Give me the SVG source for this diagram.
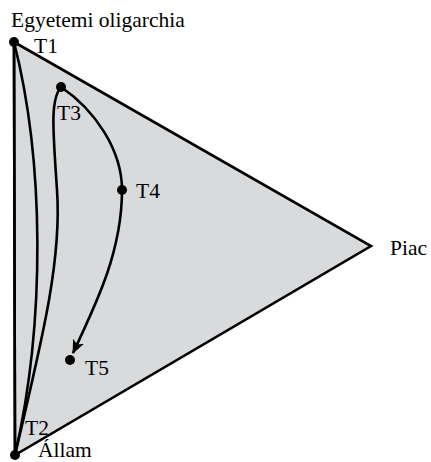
<svg xmlns="http://www.w3.org/2000/svg" width="431" height="462" viewBox="0 0 431 462">
<style>
.lbl{font-family:"Liberation Serif","Times New Roman",serif;font-size:21.5px;fill:#000}
.ln{fill:none;stroke:#000;stroke-width:2.6}
.dot{fill:#000}
</style>
<defs>
<marker id="arr" viewBox="0 0 14 12" refX="13" refY="6" markerWidth="14" markerHeight="12" markerUnits="userSpaceOnUse" orient="auto">
<path d="M0,0 L14,6 L0,12 L3.5,6 Z" fill="#000"/>
</marker>
</defs>
<g id="triangle">
<polygon points="14,42 371,246 15,455" fill="#d9dadc" stroke="#000" stroke-width="2.6" stroke-linejoin="miter"/>
</g>
<g id="connectors">
<path class="ln" d="M14,42 L15,455"/>
<path class="ln" d="M14,42 C44,160 46,320 15,455"/>
<path class="ln" d="M15,455 C42,340 62,260 57,190 C53,130 50,100 61,87"/>
<path class="ln" d="M61,87 C95,110 122,150 122,190 C122,250 98,300 73,353" marker-end="url(#arr)"/>
</g>
<g id="T1"><circle class="dot" cx="14" cy="42" r="5"/><text class="lbl" x="34" y="53">T1</text></g>
<g id="egyetemi"><text class="lbl" x="11" y="27">Egyetemi oligarchia</text></g>
<g id="T2"><circle class="dot" cx="15" cy="455" r="5"/><text class="lbl" x="25" y="435">T2</text></g>
<g id="allam"><text class="lbl" x="38" y="457">Állam</text></g>
<g id="piac"><text class="lbl" x="390" y="255">Piac</text></g>
<g id="T3"><circle class="dot" cx="61" cy="87" r="5"/><text class="lbl" x="57" y="120">T3</text></g>
<g id="T4"><circle class="dot" cx="122" cy="190" r="5"/><text class="lbl" x="136" y="198">T4</text></g>
<g id="T5"><circle class="dot" cx="70" cy="360" r="5"/><text class="lbl" x="85" y="375">T5</text></g>
</svg>
